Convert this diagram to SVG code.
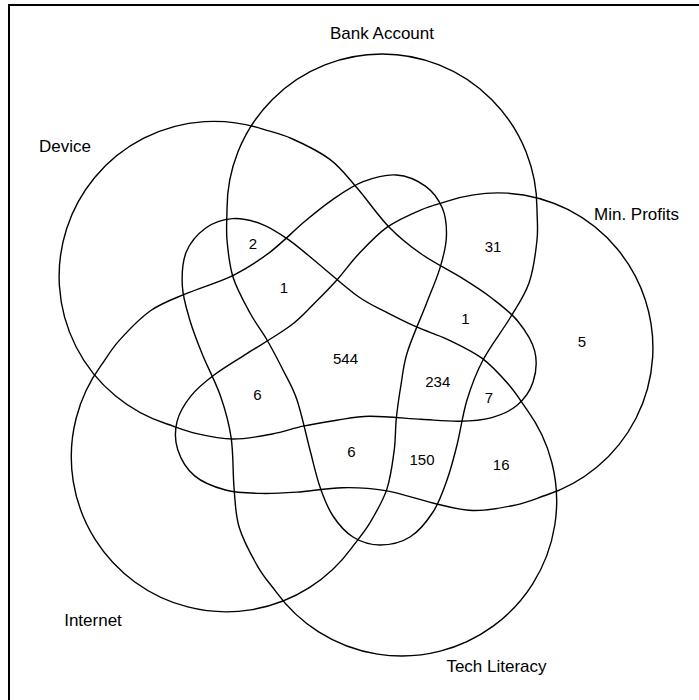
<svg xmlns="http://www.w3.org/2000/svg" xmlns:xlink="http://www.w3.org/1999/xlink" width="699" height="700" viewBox="0 0 699 700">
<style>
.set{fill:none;stroke:#000;stroke-width:1.4}
.lab{font-family:"Liberation Sans",Arial,sans-serif;font-size:17px;fill:#000;text-anchor:middle}
.num{font-family:"Liberation Sans",Arial,sans-serif;font-size:15px;fill:#000;text-anchor:middle}
</style>
<defs>
<path id="shape" d="M 227 209 A 155 155 0 0 1 537 209 C 537 219.3 538.3 227.7 537 240 C 535.7 252.3 533.5 270 529 283 C 524.5 296 517.7 305.2 510 318 C 502.3 330.8 490.2 346.3 483 360 C 475.8 373.7 471.3 385.8 467 400 C 462.7 414.2 460.3 431.7 457 445 C 453.7 458.3 451 468.8 447 480 C 443 491.2 439.2 502.5 433 512 C 426.8 521.5 418.8 531.5 410 537 C 401.2 542.5 389.5 545 380 545 C 370.5 545 360.8 541.8 353 537 C 345.2 532.2 338.5 524.3 333 516 C 327.5 507.7 323.8 498 320 487 C 316.2 476 313.8 464.5 310 450 C 306.2 435.5 301.5 413.3 297 400 C 292.5 386.7 288 380 283 370 C 278 360 272.5 349.5 267 340 C 261.5 330.5 255.7 323.5 250 313 C 244.3 302.5 236.8 289.2 233 277 C 229.2 264.8 228 251.3 227 240 C 226 228.7 227 219.3 227 209 Z"/>
</defs>
<rect x="9" y="5" width="700" height="700" fill="none" stroke="#000" stroke-width="2"/>
<g id="connectors"></g>
<g id="bank-account">
<use xlink:href="#shape" href="#shape" class="set"/>
<text class="lab" x="382" y="39">Bank Account</text>
</g>
<g id="min-profits">
<use xlink:href="#shape" href="#shape" class="set" transform="rotate(72 344.4 358.2)"/>
<text class="lab" x="636.5" y="220">Min. Profits</text>
</g>
<g id="tech-literacy">
<use xlink:href="#shape" href="#shape" class="set" transform="rotate(144 344.4 358.2)"/>
<text class="lab" x="496.5" y="672">Tech Literacy</text>
</g>
<g id="internet">
<use xlink:href="#shape" href="#shape" class="set" transform="rotate(216 344.4 358.2)"/>
<text class="lab" x="93" y="626">Internet</text>
</g>
<g id="device">
<use xlink:href="#shape" href="#shape" class="set" transform="rotate(288 344.4 358.2)"/>
<text class="lab" x="65" y="152">Device</text>
</g>
<g id="counts">
<text class="num" x="253" y="248.5">2</text>
<text class="num" x="284" y="293">1</text>
<text class="num" x="493" y="251.5">31</text>
<text class="num" x="465.5" y="323.5">1</text>
<text class="num" x="582" y="347">5</text>
<text class="num" x="345.5" y="364">544</text>
<text class="num" x="257.5" y="399.5">6</text>
<text class="num" x="437.8" y="387.3">234</text>
<text class="num" x="489" y="402.7">7</text>
<text class="num" x="351.5" y="457.3">6</text>
<text class="num" x="422" y="465">150</text>
<text class="num" x="501.2" y="470">16</text>
</g>
</svg>
